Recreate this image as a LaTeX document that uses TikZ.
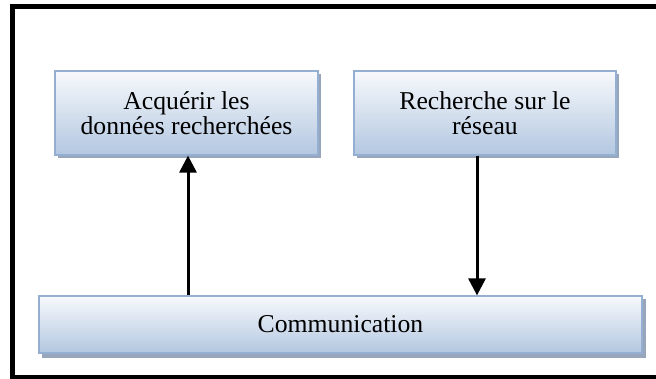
\documentclass[tikz,border=0pt]{standalone}
\usepackage{fontspec}
\setmainfont{Liberation Serif}
\usetikzlibrary{arrows.meta}
\definecolor{boxtop}{HTML}{F7F9FC}
\definecolor{boxbot}{HTML}{B3C7E0}
\definecolor{boxedge}{HTML}{95AFD2}
\definecolor{boxshade}{HTML}{98A6BB}
\tikzset{
  stagebox/.style={rectangle, draw=boxedge, line width=1.2pt,
    top color=boxtop, bottom color=boxbot, align=center,
    font=\fontsize{25.7}{24.5}\selectfont, inner sep=0pt},
  shadebox/.style={fill=boxshade, draw=none},
  flow/.style={line width=3pt, -{Triangle[length=17pt,width=17pt]}}
}
\begin{document}
\begin{tikzpicture}[x=1pt,y=-1pt]
  \useasboundingbox (0,0) rectangle (656,379);
  \clip (0,0) rectangle (656,379);
  \fill[white] (0,0) rectangle (656,379);
  % outer frame (its right edge lies beyond the page)
  \draw[line width=4.5pt] (12.5,6.5) rectangle (680,377.5);
  % flat shadows behind the three boxes
  \fill[shadebox] (58,74) rectangle (321,158.5);
  \fill[shadebox] (357,74) rectangle (619,158.5);
  \fill[shadebox] (42,299) rectangle (645.5,357.5);
  % boxes
  \node[stagebox, minimum width=263pt, minimum height=84pt] (acq) at (186.5,113)
    {Acquérir les\\données recherchées};
  \node[stagebox, minimum width=262pt, minimum height=84pt] (rech) at (485,113)
    {Recherche sur le\\réseau};
  \node[stagebox, minimum width=603pt, minimum height=57pt] (comm) at (340.5,324.5)
    {Communication};
  % connectors
  \draw[flow] (comm.north -| 188,0) -- (acq.south -| 188,0);
  \draw[flow] (rech.south -| 477,0) -- (comm.north -| 477,0);
\end{tikzpicture}
\end{document}
